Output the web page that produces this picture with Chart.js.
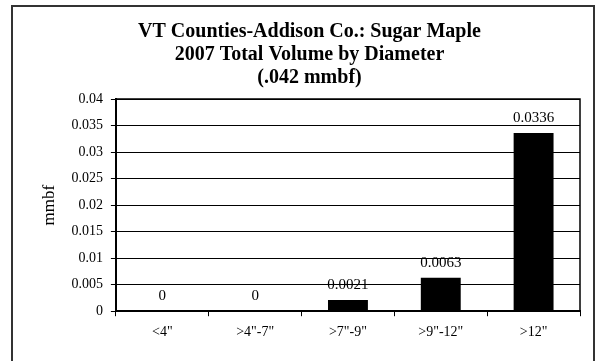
<!DOCTYPE html>
<html>
<head>
<meta charset="utf-8">
<script src="https://cdn.jsdelivr.net/npm/chart.js"></script>
<style>
  body { margin: 0; background: #fff; }
  #wrap { width: 599px; height: 361px; position: relative; }
</style>
</head>
<body>
<div id="wrap"><canvas id="bar-chart"></canvas></div>
<script>
const labels = ['<4"', '>4"-7"', '>7"-9"', '>9"-12"', '>12"'];
const values = [0, 0, 0.0021, 0.0063, 0.0336];
const titleLines = ['VT Counties-Addison Co.: Sugar Maple', '2007 Total Volume by Diameter', '(.042 mmbf)'];
const yTitle = 'mmbf';

Chart.defaults.color = '#000';
Chart.defaults.font.family = '"Liberation Serif", "Times New Roman", serif';

// outer frame + plot border, like the old excel chart
const framePlugin = {
    id: 'frame',
    beforeDraw(chart) {
        const ctx = chart.ctx;
        ctx.save();
        ctx.fillStyle = '#fff';
        ctx.fillRect(0, 0, chart.width, chart.height);
        ctx.strokeStyle = '#333';
        ctx.lineWidth = 2;
        ctx.strokeRect(12, 6, 582, 370);
        ctx.restore();
    },
    afterDraw(chart) {
        const a = chart.chartArea;
        const ctx = chart.ctx;
        ctx.save();
        ctx.strokeStyle = '#000';
        ctx.lineWidth = 1.5;
        ctx.beginPath();
        ctx.moveTo(a.left, a.top);
        ctx.lineTo(a.right, a.top);
        ctx.lineTo(a.right, a.bottom);
        ctx.stroke();
        ctx.restore();
    }
};

// value labels above the bars
const labelPlugin = {
    id: 'vals',
    afterDatasetsDraw(chart) {
        const ctx = chart.ctx;
        const meta = chart.getDatasetMeta(0);
        ctx.save();
        ctx.font = '15px "Liberation Serif", serif';
        ctx.fillStyle = '#000';
        ctx.textAlign = 'center';
        ctx.textBaseline = 'alphabetic';
        meta.data.forEach((bar, i) => {
            ctx.fillText(String(values[i]), bar.x, bar.y - 11);
        });
        ctx.restore();
    }
};

new Chart(document.getElementById('bar-chart'), {
    type: 'bar',
    data: {
        labels: labels,
        datasets: [{
            label: 'mmbf',
            data: values,
            backgroundColor: '#000',
            borderColor: '#000',
            barPercentage: 0.43,
            categoryPercentage: 1
        }]
    },
    options: {
        responsive: true,
        maintainAspectRatio: false,
        animation: false,
        layout: { padding: { top: 20, left: 39, right: 19, bottom: 12 } },
        plugins: {
            legend: { display: false },
            tooltip: { enabled: false },
            title: {
                display: true,
                text: titleLines,
                font: { size: 20, weight: 'bold', lineHeight: 1.15 },
                padding: { top: 0, bottom: 10 }
            }
        },
        scales: {
            x: {
                offset: true,
                grid: { offset: true, drawOnChartArea: false, color: '#000', tickLength: 5 },
                border: { color: '#000', width: 2 },
                ticks: { font: { size: 14 }, padding: 8 }
            },
            y: {
                min: 0,
                max: 0.04,
                ticks: {
                    stepSize: 0.005,
                    font: { size: 14 },
                    padding: 8,
                    callback: v => String(Number(v.toFixed(4)))
                },
                grid: { color: '#000', tickLength: 5 },
                border: { color: '#000', width: 2 },
                title: { display: true, text: yTitle, font: { size: 17 }, padding: { top: 0, bottom: 4 } }
            }
        }
    },
    plugins: [framePlugin, labelPlugin]
});
</script>
</body>
</html>
